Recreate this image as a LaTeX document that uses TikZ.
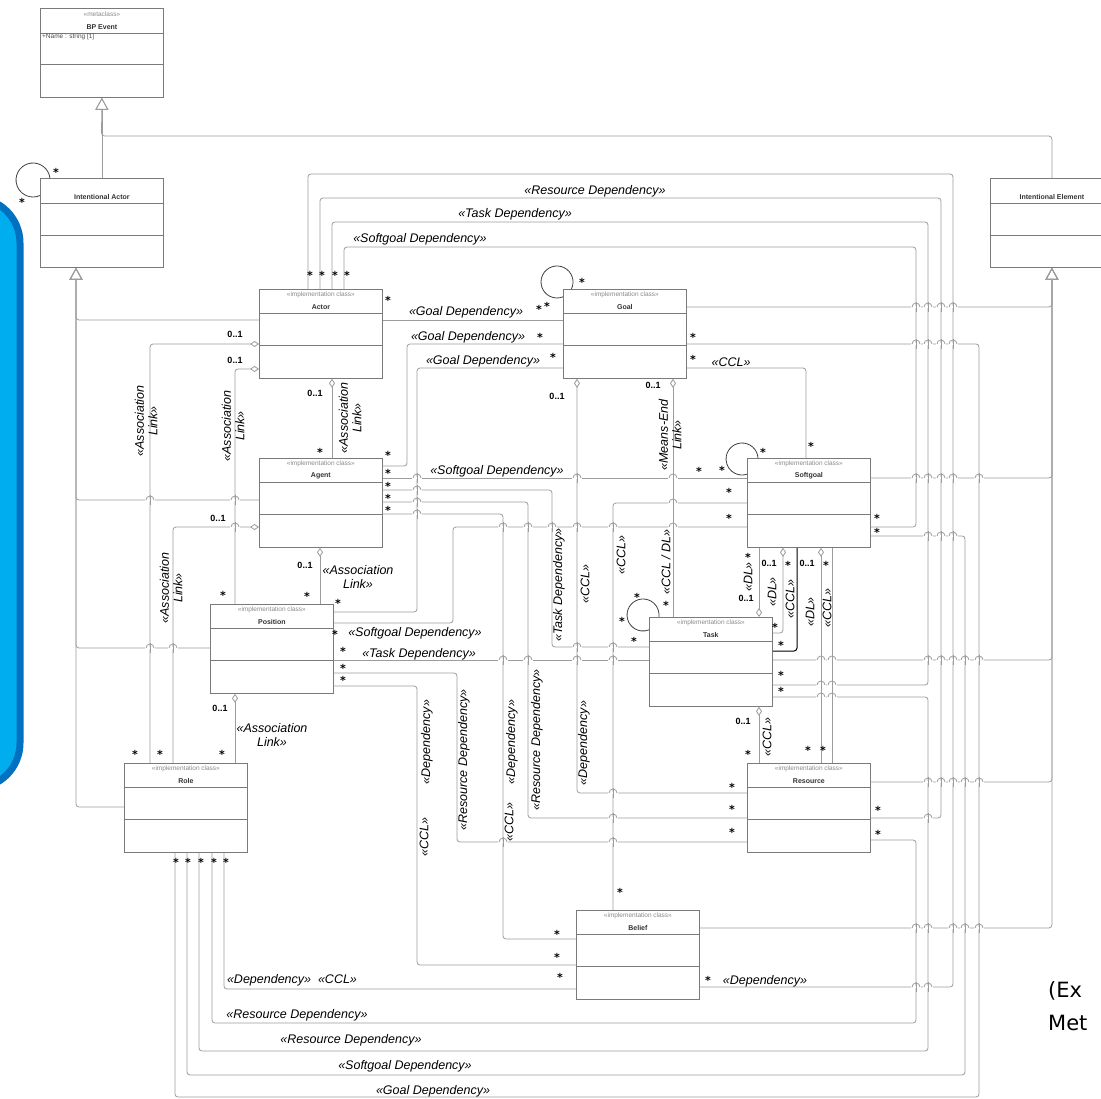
\documentclass[tikz,border=0pt]{standalone}
\usepackage{fontspec}
\setmainfont{Liberation Sans}
\newfontfamily\notefont{DejaVu Sans}
\usetikzlibrary{arrows.meta}
\definecolor{boxgray}{HTML}{7A7A7A}
\definecolor{linkgray}{HTML}{9C9C9C}
\definecolor{stereogray}{HTML}{8A8A8A}
\definecolor{panelblue}{HTML}{00AEEF}
\definecolor{paneledge}{HTML}{0070C0}

\tikzset{
  classbox/.style={rectangle, draw=boxgray, fill=white, line width=0.8pt,
    minimum width=123pt, minimum height=89pt, inner sep=0pt, anchor=north west},
  divider/.style={draw=boxgray, line width=0.7pt},
  stereo/.style={font=\fontsize{6.5}{7}\selectfont, text=stereogray, inner sep=0pt},
  cname/.style={font=\fontsize{7}{8}\selectfont\bfseries, text=black!80, inner sep=0pt},
  link/.style={draw=linkgray, line width=0.8pt, rounded corners=3pt},
  agg/.style={link, {Diamond[open, length=9pt, width=6pt]}-},
  aggend/.style={link, -{Diamond[open, length=9pt, width=6pt]}},
  gen/.style={link, -{Triangle[open, length=12pt, width=13pt]}},
  lbl/.style={font=\fontsize{12.5}{13.5}\selectfont\itshape, inner sep=0pt},
  mult/.style={font=\fontsize{9}{9}\selectfont\bfseries, inner sep=0pt},
  star/.style={font=\notefont\fontsize{11}{11}\selectfont\bfseries, inner sep=0pt, yshift=-2pt},
}

% one <<implementation class>> box with its two empty compartments
\newcommand{\implclass}[4]{%
  \node[classbox] (#1) at (#2,#3) {};
  \node[stereo] (#1-st) at ([yshift=-6pt]#1.north) {«implementation class»};
  \node[cname] (#1-nm) at ([yshift=-18pt]#1.north) {#4};
  \draw[divider] ([yshift=-24.5pt]#1.north west) -- ([yshift=-24.5pt]#1.north east);
  \draw[divider] ([yshift=-56pt]#1.north west) -- ([yshift=-56pt]#1.north east);
}
\newcommand{\plainclass}[4]{%
  \node[classbox] (#1) at (#2,#3) {};
  \node[cname] (#1-nm) at ([yshift=-19pt]#1.north) {#4};
  \draw[divider] ([yshift=-25pt]#1.north west) -- ([yshift=-25pt]#1.north east);
  \draw[divider] ([yshift=-57pt]#1.north west) -- ([yshift=-57pt]#1.north east);
}

\begin{document}
\begin{tikzpicture}[x=1pt, y=-1pt]
  \useasboundingbox (0,0) rectangle (1101,1099);

  % side panel, cut by the left margin
  \draw[fill=panelblue, draw=paneledge, line width=7pt, rounded corners=45pt]
    (-80,198) rectangle (20,788);

  % metaclasses
  \node[classbox] (bpevent) at (40,8) {};
  \node[stereo] (bpevent-st) at ([yshift=-6pt]bpevent.north) {«metaclass»};
  \node[cname] (bpevent-nm) at ([yshift=-19pt]bpevent.north) {BP Event};
  \draw[divider] ([yshift=-25pt]bpevent.north west) -- ([yshift=-25pt]bpevent.north east);
  \node[stereo, text=black!70, anchor=north west] (bpevent-at)
    at ([shift={(2pt,-26pt)}]bpevent.north west) {+Name : string [1]};
  \draw[divider] ([yshift=-56pt]bpevent.north west) -- ([yshift=-56pt]bpevent.north east);
  \plainclass{intactor}{40}{178}{Intentional Actor}
  \plainclass{intelem}{990}{178}{Intentional Element}

  % implementation classes
  \implclass{actor}{259}{289}{Actor}
  \implclass{goal}{563}{289}{Goal}
  \implclass{agent}{259}{458}{Agent}
  \implclass{softgoal}{747}{458}{Softgoal}
  \implclass{position}{210}{604}{Position}
  \implclass{task}{649}{617}{Task}
  \implclass{role}{124}{763}{Role}
  \implclass{resource}{747}{763}{Resource}
  \implclass{belief}{576}{910}{Belief}

  % generalisations
  \draw[gen] (intactor.north) -- (bpevent.south);
  \draw[gen] (intelem.north) |- (101.5,136) -- (bpevent.south);
  \foreach \nd/\dy in {actor/31, agent/42, position/44, role/44}
    \draw[gen] ([shift={(0,\dy)}]\nd.north west) -| ([shift={(36,0)}]intactor.south west);
  \foreach \nd/\dy in {goal/18, softgoal/20, task/43, resource/19, belief/18}
    \draw[gen] ([shift={(0,\dy)}]\nd.north east) -| (intelem.south);

  % dependencies leaving the top of Actor
  \draw[link] ([shift={(49,0)}]actor.north west) |- (953,174) |- ([shift={(0,77)}]belief.north east);
  \draw[link] ([shift={(61,0)}]actor.north west) |- (941,198) |- ([shift={(0,55)}]resource.north east);
  \draw[link] ([shift={(73,0)}]actor.north west) |- (928,222) |- ([shift={(0,68)}]task.north east);
  \draw[link] ([shift={(85,0)}]actor.north west) |- (916,247) |- ([shift={(0,69)}]softgoal.north east);

  % goal dependencies
  \draw[link] ([shift={(0,31)}]actor.north east) -- ([shift={(0,31)}]goal.north west);
  \draw[link] ([shift={(0,8)}]agent.north east) -| (407,344) -- ([shift={(0,55)}]goal.north west);
  \draw[link] ([shift={(0,8)}]position.north east) -| (417,368) -- ([shift={(0,79)}]goal.north west);
  \draw[link] ([shift={(0,55)}]goal.north east) -| (979,1097) -| ([shift={(51,0)}]role.south west);
  \draw[link] ([shift={(0,79)}]goal.north east) -| ([shift={(59,0)}]softgoal.north west);
  \draw[agg] ([shift={(14,0)}]goal.south west) |- ([shift={(0,30)}]resource.north west);
  \draw[agg] ([shift={(110,0)}]goal.south west) -- ([shift={(24,0)}]task.north west);

  % agent
  \draw[link] ([shift={(0,20)}]agent.north east) -- ([shift={(0,20)}]softgoal.north west);
  \draw[link] ([shift={(0,32)}]agent.north east) -| (552,647) -- ([shift={(0,30)}]task.north west);
  \draw[link] ([shift={(0,44)}]agent.north east) -| (528,818) -- ([shift={(0,55)}]resource.north west);
  \draw[link] ([shift={(0,56)}]agent.north east) -| (503,939) -- ([shift={(0,29)}]belief.north west);

  % position
  \draw[link] ([shift={(0,19)}]position.north east) -| (453,527) -- ([shift={(0,69)}]softgoal.north west);
  \draw[link] ([shift={(0,56)}]position.north east) -- ([shift={(0,43)}]task.north west);
  \draw[link] ([shift={(0,69)}]position.north east) -| (457,842) -- ([shift={(0,79)}]resource.north west);
  \draw[link] ([shift={(0,82)}]position.north east) -| (417,965) -- ([shift={(0,55)}]belief.north west);

  % softgoal
  \draw[link] ([shift={(0,45)}]softgoal.north west) -| ([shift={(37,0)}]belief.north west);
  \draw[link] ([shift={(0,78)}]softgoal.north east) -| (965,1075) -| ([shift={(63,0)}]role.south west);
  \draw[aggend] ([shift={(12,0)}]softgoal.south west) -- ([shift={(110,0)}]task.north west);
  \draw[agg] ([shift={(36,0)}]softgoal.south west) |- ([shift={(0,16)}]task.north east);
  \draw[link, draw=black, line width=1pt] ([shift={(50,0)}]softgoal.south west) |- ([shift={(0,34)}]task.north east);
  \draw[agg] ([shift={(74,0)}]softgoal.south west) -- ([shift={(74,0)}]resource.north west);
  \draw[link] ([shift={(85,0)}]softgoal.south west) -- ([shift={(85,0)}]resource.north west);

  % task, resource, belief
  \draw[link] ([shift={(0,80)}]task.north east) -| (928,1051) -| ([shift={(75,0)}]role.south west);
  \draw[agg] ([shift={(110,0)}]task.south west) -- ([shift={(12,0)}]resource.north west);
  \draw[link] ([shift={(0,77)}]resource.north east) -| (916,1023) -| ([shift={(88,0)}]role.south west);
  \draw[link] ([shift={(0,79)}]belief.north west) -| ([shift={(100,0)}]role.south west);

  % association links between the actor kinds
  \draw[agg] ([shift={(73,0)}]actor.south west) -- ([shift={(73,0)}]agent.north west);
  \draw[agg] ([shift={(61,0)}]agent.south west) -- ([shift={(110,0)}]position.north west);
  \draw[agg] ([shift={(0,55)}]actor.north west) -| ([shift={(26,0)}]role.north west);
  \draw[agg] ([shift={(0,80)}]actor.north west) -| ([shift={(25,0)}]position.north west);
  \draw[agg] ([shift={(0,69)}]agent.north west) -| ([shift={(49,0)}]role.north west);
  \draw[agg] ([shift={(25,0)}]position.south west) -- ([shift={(111,0)}]role.north west);

  % self loops
  \draw[link, draw=black!75] ([shift={(9.9,0)}]intactor.north west) arc[start angle=-6.8, end angle=-294.3, radius=17];
  \draw[link, draw=black!75] ([shift={(8.4,0)}]goal.north west) arc[start angle=26, end angle=-292, radius=16];
  \draw[link, draw=black!75] ([shift={(11,0)}]softgoal.north west) arc[start angle=-3.6, end angle=-288.2, radius=16];
  \draw[link, draw=black!75] ([shift={(9.9,0)}]task.north west) arc[start angle=7.2, end angle=-292, radius=16];

  % line jumps where a horizontal run passes a vertical one
  \foreach \jy/\xs in {307/{916,928,941,953}, 344/{916,928,941,953},
      478/{417,577,673,916,928,941,953,979}, 490/{417}, 502/{417}, 514/{417},
      500/{150,235}, 503/{673}, 527/{235,503,528,552,577,613,673}, 536/{928,941,953},
      647/{577,613}, 648/{150,173}, 660/{503,528,577,613,821,832,928,941,953,965,979},
      685/{821,832}, 697/{821,832}, 782/{928,941,953,965,979}, 793/{613},
      818/{613,928}, 842/{503,613}, 928/{916,928,953,965,979}, 987/{916,928}}
    \foreach \jx in \xs {
      \fill[white] (\jx-4.6,\jy-1.3) rectangle (\jx+4.6,\jy+1.3);
      \draw[link] (\jx-4,\jy) arc[start angle=180, end angle=360, radius=4];
      \draw[link] (\jx,\jy-5) -- (\jx,\jy+5);
    }

  % connector names
  \node[lbl] (lbResTop) at (595,191) {«Resource Dependency»};
  \node[lbl] (lbTaskTop) at (515,214) {«Task Dependency»};
  \node[lbl] (lbSoftTop) at (420,239) {«Softgoal Dependency»};
  \node[lbl] (lbGoalA) at (466,312) {«Goal Dependency»};
  \node[lbl] (lbGoalB) at (468,337) {«Goal Dependency»};
  \node[lbl] (lbGoalC) at (483,361) {«Goal Dependency»};
  \node[lbl] (lbCclGoal) at (731,362) {«CCL»};
  \node[lbl] (lbSoftAgent) at (497,471) {«Softgoal Dependency»};
  \node[lbl] (lbSoftPos) at (415,633) {«Softgoal Dependency»};
  \node[lbl] (lbTaskPos) at (419,654) {«Task Dependency»};
  \node[lbl] (lbDepBelief) at (765,981) {«Dependency»};
  \node[lbl] (lbDepCcl) at (292,980) {«Dependency» \ «CCL»};
  \node[lbl] (lbResRoleA) at (297,1015) {«Resource Dependency»};
  \node[lbl] (lbResRoleB) at (351,1040) {«Resource Dependency»};
  \node[lbl] (lbSoftRole) at (405,1066) {«Softgoal Dependency»};
  \node[lbl] (lbGoalRole) at (433,1091) {«Goal Dependency»};
  \node[lbl, align=center] (lbAssocAgPos) at (358,577) {«Association\\Link»};
  \node[lbl, align=center] (lbAssocPosRole) at (272,735) {«Association\\Link»};
  \node[lbl, rotate=90, align=center] (lbAssocActRole) at (146,421) {«Association\\Link»};
  \node[lbl, rotate=90, align=center] (lbAssocActPos) at (233,426) {«Association\\Link»};
  \node[lbl, rotate=90, align=center] (lbAssocActAg) at (350,418) {«Association\\Link»};
  \node[lbl, rotate=90, align=center] (lbAssocAgRole) at (171,588) {«Association\\Link»};
  \node[lbl, rotate=90, align=center] (lbMeansEnd) at (670,435) {«Means-End\\Link»};
  \node[lbl, rotate=90] (lbTaskAgent) at (559,585) {«Task Dependency»};
  \node[lbl, rotate=90] (lbCclGoalRes) at (585,584) {«CCL»};
  \node[lbl, rotate=90] (lbCclSoftBel) at (621,555) {«CCL»};
  \node[lbl, rotate=90] (lbCclDl) at (666,562) {«CCL / DL»};
  \node[lbl, rotate=90] (lbDlA) at (748,577) {«DL»};
  \node[lbl, rotate=90] (lbDlB) at (772,592) {«DL»};
  \node[lbl, rotate=90] (lbCclB) at (790,599) {«CCL»};
  \node[lbl, rotate=90] (lbDlC) at (810,612) {«DL»};
  \node[lbl, rotate=90] (lbCclC) at (827,608) {«CCL»};
  \node[lbl, rotate=90] (lbCclTaskRes) at (767,737) {«CCL»};
  \node[lbl, rotate=90] (lbDepPosBel) at (427,742) {«Dependency»};
  \node[lbl, rotate=90] (lbCclPosBel) at (424,837) {«CCL»};
  \node[lbl, rotate=90] (lbResPos) at (464,760) {«Resource Dependency»};
  \node[lbl, rotate=90] (lbCclAgBel) at (509,822) {«CCL»};
  \node[lbl, rotate=90] (lbDepAgBel) at (512,742) {«Dependency»};
  \node[lbl, rotate=90] (lbResAgent) at (537,740) {«Resource Dependency»};
  \node[lbl, rotate=90] (lbDepGoalRes) at (584,743) {«Dependency»};

  % multiplicities
  \foreach \mx/\my [count=\i] in {235/334, 235/360, 315/393, 218/518, 305/565, 220/708,
      557/396, 653/385, 769/563, 807/563, 746/598, 743/721}
    \node[mult] (m\i) at (\mx,\my) {0..1};
  \foreach \sx/\sy [count=\i] in {310/273, 322/273, 335/273, 347/273, 388/298,
      539/307, 540/335, 553/355, 582/280, 547/304, 693/335, 693/357,
      320/450, 388/453, 388/471, 388/484, 388/496, 388/508,
      811/444, 699/469, 722/468, 763/450, 729/490, 729/516, 877/516, 877/530,
      748/555, 788/563, 826/563,
      637/595, 622/619, 666/603, 634/639, 775/625, 781/643, 781/673, 781/689,
      223/593, 307/594, 338/601, 335/632, 343/649, 343/666, 343/678,
      135/752, 160/752, 222/752, 176/860, 188/860, 201/860, 214/860, 226/860,
      748/752, 808/748, 823/748, 732/785, 732/807, 732/830, 878/808, 878/832,
      620/890, 557/932, 557/955, 560/975, 708/978, 56/170, 22/200}
    \node[star] (st\i) at (\sx,\sy) {*};

  % caption cut by the right margin
  \node[anchor=base west, inner sep=0pt, font=\notefont\fontsize{21}{24}\selectfont] (noteA) at (1048,997) {(Ex};
  \node[anchor=base west, inner sep=0pt, font=\notefont\fontsize{21}{24}\selectfont] (noteB) at (1048,1030) {Met};
\end{tikzpicture}
\end{document}
